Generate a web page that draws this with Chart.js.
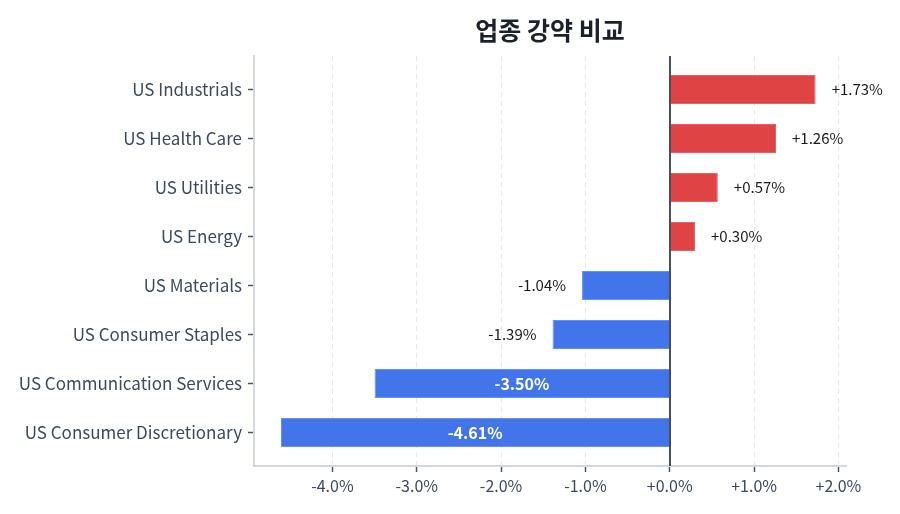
<!DOCTYPE html>
<html>
<head>
<meta charset="utf-8">
<script src="https://cdn.jsdelivr.net/npm/chart.js@4.4.1/dist/chart.umd.min.js"></script>
<style>
  html, body { margin: 0; padding: 0; background: #ffffff; }
  #wrap { width: 900px; height: 514px; }
</style>
</head>
<body>
<div id="wrap"><canvas id="chart" width="900" height="514"></canvas></div>
<script>
// sectors, top to bottom
const sectors = [
    "US Industrials",
    "US Health Care",
    "US Utilities",
    "US Energy",
    "US Materials",
    "US Consumer Staples",
    "US Communication Services",
    "US Consumer Discretionary"
];
// daily change in %
const changes = [1.73, 1.26, 0.57, 0.30, -1.04, -1.39, -3.50, -4.61];

const FONT = "'Noto Sans CJK KR', 'Noto Sans', sans-serif";
const RED = "#e04343";
const BLUE = "#4175e9";

function pct(v, digits) {
    let s = (v >= 0 ? "+" : "") + v.toFixed(digits) + "%";
    if (s === "-0.0%") s = "+0.0%";
    return s;
}

// line at zero, drawn over the bars
const zeroLine = {
    id: "zeroLine",
    afterDatasetsDraw(chart) {
        const ctx = chart.ctx;
        const x = Math.round(chart.scales.x.getPixelForValue(0));
        ctx.save();
        ctx.strokeStyle = "#454f5e";
        ctx.lineWidth = 2;
        ctx.beginPath();
        ctx.moveTo(x, chart.chartArea.top);
        ctx.lineTo(x, chart.chartArea.bottom);
        ctx.stroke();
        ctx.restore();
    }
};

// value labels: inside for the big bars, outside for the rest
const valueLabels = {
    id: "valueLabels",
    afterDatasetsDraw(chart) {
        const ctx = chart.ctx;
        const meta = chart.getDatasetMeta(0);
        ctx.save();
        ctx.textBaseline = "middle";
        meta.data.forEach(function (bar, i) {
            const v = changes[i];
            const txt = pct(v, 2);
            if (Math.abs(v) >= 2) {
                ctx.font = "bold 16px " + FONT;
                ctx.fillStyle = "#ffffff";
                ctx.textAlign = "center";
                ctx.fillText(txt, (bar.x + bar.base) / 2, bar.y);
            } else {
                ctx.font = "15px " + FONT;
                ctx.fillStyle = "#1a1a1a";
                ctx.textAlign = v >= 0 ? "left" : "right";
                ctx.fillText(txt, v >= 0 ? bar.x + 16 : bar.x - 16, bar.y);
            }
        });
        ctx.restore();
    }
};

const ctx = document.getElementById("chart");
new Chart(ctx, {
    type: "bar",
    data: {
        datasets: [{
            data: changes.map(function (v, i) { return { x: v, y: i }; }),
            backgroundColor: changes.map(function (v) { return v >= 0 ? RED : BLUE; }),
            borderColor: changes.map(function (v) { return v >= 0 ? "#e86262" : "#6890ee"; }),
            borderWidth: 1,
            categoryPercentage: 1,
            barPercentage: 0.59
        }]
    },
    options: {
        indexAxis: "y",
        responsive: false,
        animation: false,
        layout: { padding: { left: 0, right: 54, top: 0, bottom: 0 } },
        plugins: {
            legend: { display: false },
            tooltip: { enabled: false },
            title: {
                display: true,
                text: "업종 강약 비교",
                fullSize: false,
                color: "#1a202c",
                font: { family: FONT, size: 25, weight: "bold" },
                padding: { top: 15, bottom: 11 }
            }
        },
        scales: {
            x: {
                type: "linear",
                min: -4.93,
                max: 2.09,
                afterFit: function (scale) { scale.height = 48; },
                ticks: {
                    stepSize: 1,
                    includeBounds: false,
                    color: "#3b4a5e",
                    padding: 4,
                    font: { family: FONT, size: 16 },
                    callback: function (v) { return pct(v, 1); }
                },
                grid: {
                    color: "#e6e8ec",
                    lineWidth: 1,
                    tickLength: 6,
                    tickColor: "#4a5566",
                    tickWidth: 1.5
                },
                border: { display: true, color: "#d3d7df", width: 2, dash: [5, 4] }
            },
            y: {
                type: "linear",
                reverse: true,
                offset: false,
                min: -0.684,
                max: 7.684,
                afterFit: function (scale) { scale.width = 254; },
                ticks: {
                    stepSize: 1,
                    includeBounds: false,
                    color: "#3b4a5e",
                    padding: 6,
                    font: { family: FONT, size: 17 },
                    callback: function (v) { return sectors[v]; }
                },
                grid: {
                    offset: false,
                    drawOnChartArea: false,
                    tickLength: 6,
                    tickColor: "#4a5566",
                    tickWidth: 1.5
                },
                border: { display: true, color: "#d3d7df", width: 2 }
            }
        }
    },
    plugins: [zeroLine, valueLabels]
});
</script>
</body>
</html>
